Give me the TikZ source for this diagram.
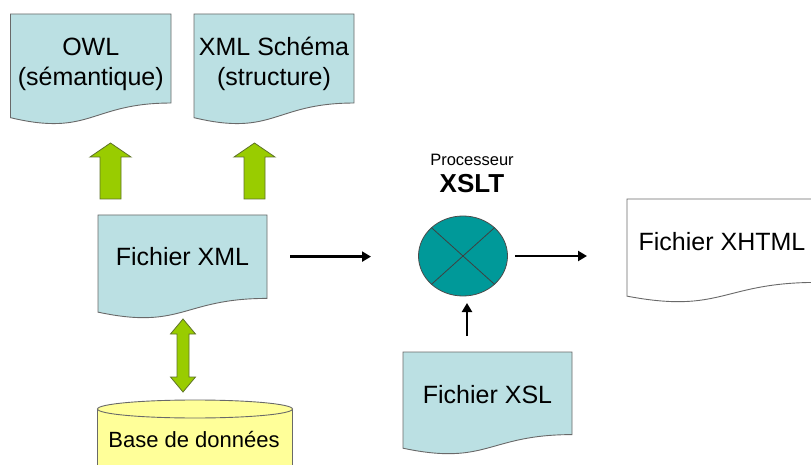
\documentclass[tikz,border=0pt]{standalone}
\usepackage{fontspec}
\setmainfont{Liberation Sans}
\usetikzlibrary{arrows.meta,shapes.geometric}

\definecolor{docfill}{RGB}{187,224,227}
\definecolor{docline}{RGB}{105,105,105}
\definecolor{greenfill}{RGB}{153,204,0}
\definecolor{greenline}{RGB}{95,115,40}
\definecolor{procfill}{RGB}{0,153,153}
\definecolor{dbfill}{RGB}{255,255,153}

\tikzset{
  docborder/.style={draw=docline, line width=0.9pt},
  doctext/.style={font=\fontsize{25}{30}\selectfont, align=center, inner sep=0pt, outer sep=0pt, text=black},
  greenarrow/.style={fill=greenfill, draw=greenline, line width=0.8pt, line join=miter},
  blk/.style={draw=black, line width=2.5pt, -{Triangle[length=9pt,width=10pt]}},
  procstyle/.style={ellipse, fill=procfill, draw=black!70, line width=0.8pt, minimum width=89pt, minimum height=80pt, inner sep=0pt, outer sep=0pt},
  dbstyle/.style={fill=dbfill, draw=docline, line width=0.9pt},
}

% name, x0, y0, w, h, fill, k (text centre fraction), text
\newcommand\docnode[8]{%
  \filldraw[docborder, fill=#6] (#2,#3) -- ++(#4,0) -- ++(0,{0.802*#5})
    .. controls ({#2+0.5*#4},{#3+0.802*#5}) and ({#2+0.5*#4},{#3+1.1075*#5}) .. (#2,{#3+0.934*#5}) -- cycle;
  \node[doctext, minimum width=#4, minimum height={0.8*#5}] (#1) at ({#2+0.5*#4},{#3+#7*#5}) {#8};
}
% green up arrow: cx, tip y, bottom y
\newcommand\greenup[3]{%
  \filldraw[greenarrow] ({#1-10.5},#3) -- ({#1-10.5},{#2+14}) -- ({#1-20.5},{#2+14}) -- (#1,#2)
    -- ({#1+20.5},{#2+14}) -- ({#1+10.5},{#2+14}) -- ({#1+10.5},#3) -- cycle;
}

\begin{document}
\begin{tikzpicture}[x=1pt,y=-1pt]
\useasboundingbox (0,0) rectangle (811,465);
\fill[white] (0,0) rectangle (811,465);
\clip (0,0) rectangle (811,465);

% documents
\docnode{owl}{10.5}{14}{160.5}{111}{docfill}{0.45}{OWL\\(sémantique)}
\docnode{xsd}{194}{14}{160}{111}{docfill}{0.45}{XML Schéma\\(structure)}
\docnode{xml}{98}{215}{169}{104}{docfill}{0.4}{Fichier XML}
\docnode{xsl}{403}{352}{169}{103}{docfill}{0.41}{Fichier XSL}
\docnode{xhtml}{627}{199}{190}{104}{white}{0.41}{Fichier XHTML}

% green block arrows
\greenup{110.5}{143}{199}
\greenup{254.5}{143}{199}
\filldraw[greenarrow] (183,319) -- (195.5,334) -- (189,334) -- (189,377) -- (195.5,377)
  -- (183,392) -- (170.5,377) -- (177,377) -- (177,334) -- (170.5,334) -- cycle;

% database cylinder
\fill[dbfill] (97.5,409) rectangle (292.5,480);
\draw[docline, line width=0.9pt] (97.5,409) -- (97.5,480) (292.5,409) -- (292.5,480);
\filldraw[dbstyle] (195,409) ellipse [x radius=97.5, y radius=9];
\node[font=\fontsize{22}{26}\selectfont, inner sep=0pt] (db) at (194,440) {Base de données};

% XSLT processor
\node[procstyle] (proc) at (463,256) {};
\draw[black!75, line width=0.8pt] (proc.north west) -- (proc.south east) (proc.north east) -- (proc.south west);
\node[font=\fontsize{16.5}{18}\selectfont, anchor=base, inner sep=0pt] (proclabel) at (472,166) {Processeur};
\node[font=\bfseries\fontsize{26}{28}\selectfont, anchor=base, inner sep=0pt] (xsltlabel) at (472,193) {XSLT};

% black arrows
\draw[blk, shorten <=23pt, shorten >=47.5pt] (xml.east) -- (xml.east -| proc.west);
\draw[blk, shorten <=7.5pt, shorten >=40pt] (proc.east) -- (proc.east -| xhtml.west);
\draw[blk, shorten <=17pt, shorten >=7pt] ([xshift=4pt]proc.south |- xsl.north) -- ([xshift=4pt]proc.south);
\end{tikzpicture}
\end{document}
